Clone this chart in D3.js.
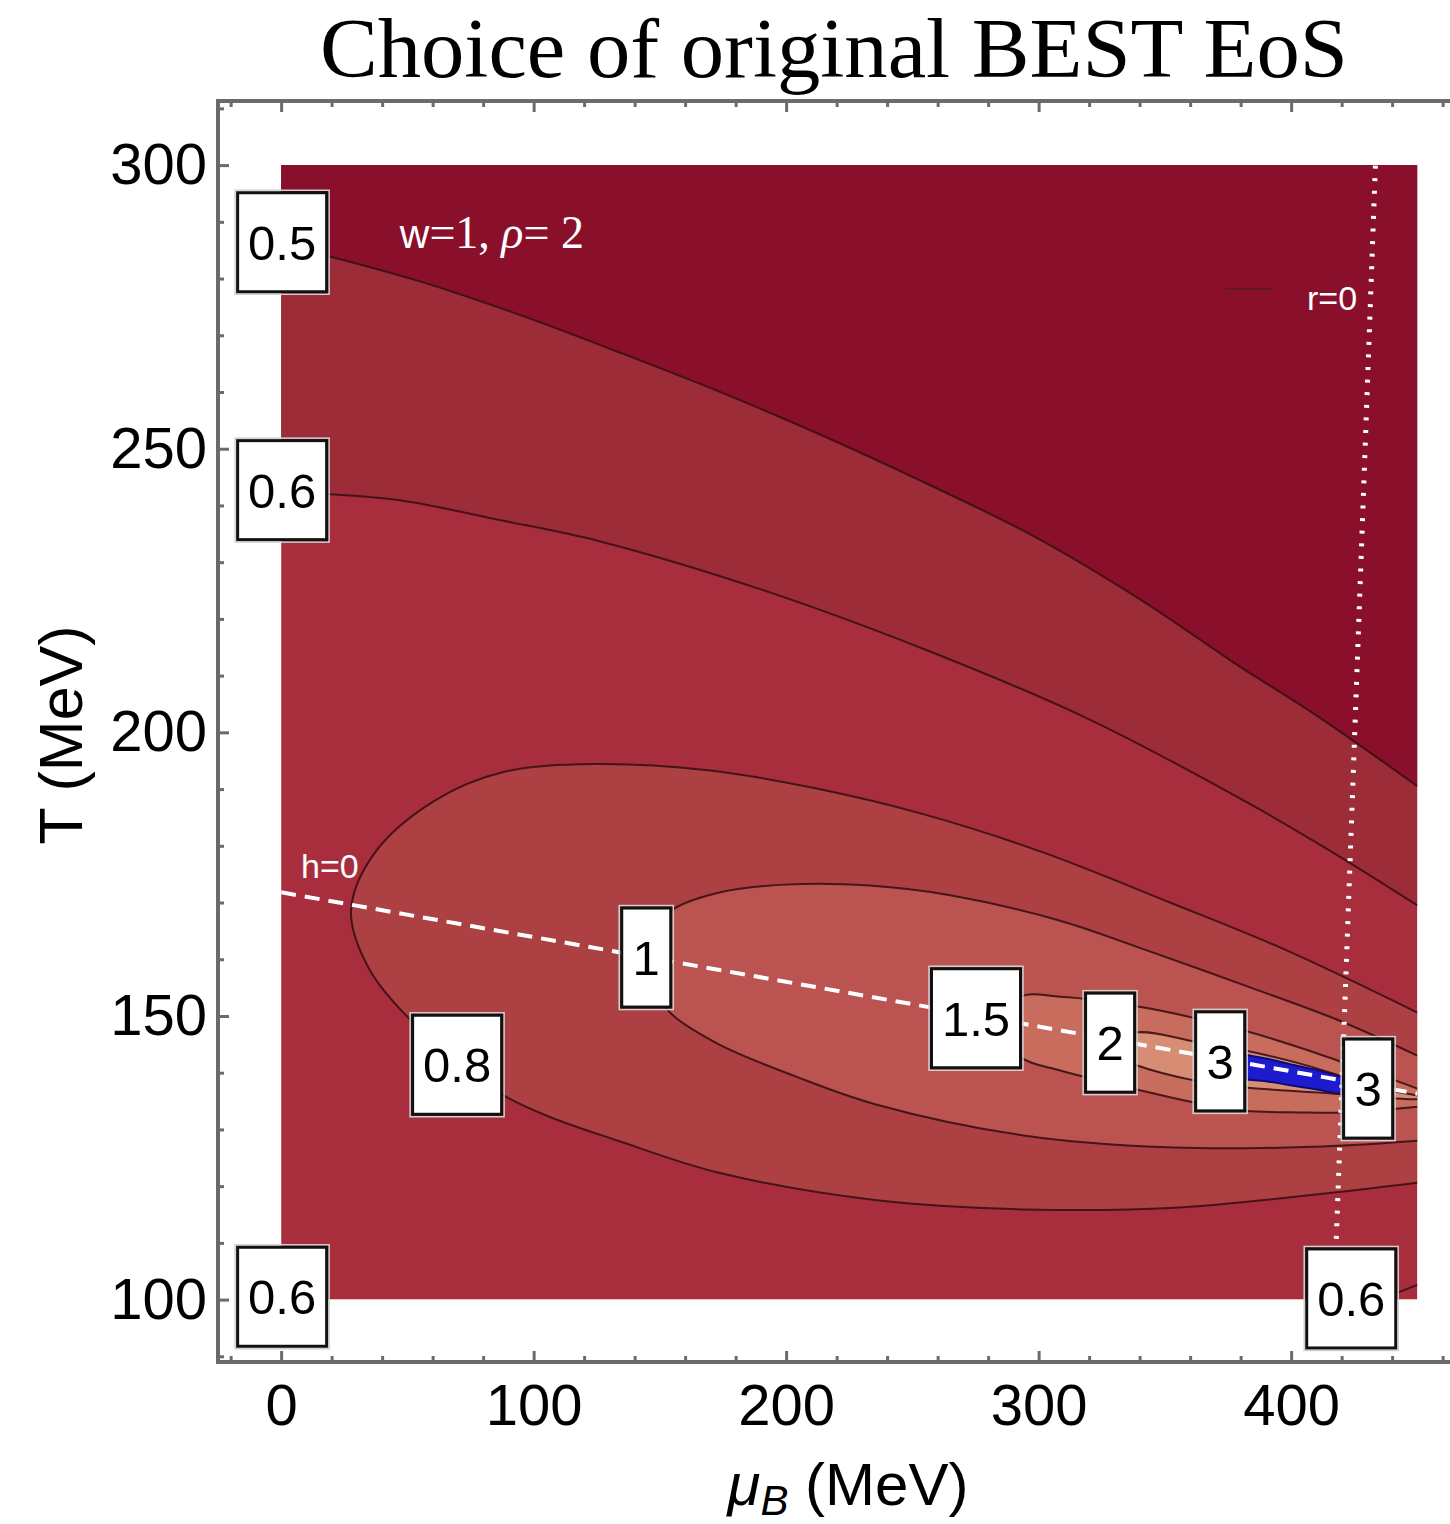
<!DOCTYPE html>
<html lang="en">
<head>
<meta charset="utf-8">
<title>Choice of original BEST EoS</title>
<script src="https://cdn.jsdelivr.net/npm/d3@7"></script>
<style>
  body { margin: 0; background: #fff; }
</style>
</head>
<body>
<div id="chart"></div>
<script>
// axis ticks
const xTicks = [0, 100, 200, 300, 400];
const xMinor = [-20, 20, 40, 60, 80, 120, 140, 160, 180, 220, 240, 260, 280, 320, 340, 360, 380, 420, 440, 460];
const yTicks = [100, 150, 200, 250, 300];
const yMinor = [90, 110, 120, 130, 140, 160, 170, 180, 190, 210, 220, 230, 240, 260, 270, 280, 290, 310];

// contour lines, [muB, T]
const contour05 = [[0,286],[20,283.8],[55,279.5],[95,273.5],[135,266.8],[175,259.8],[215,252.2],[255,244],[298,234.6],[340,223.5],[380,211.5],[410,203],[450,190.5]];
const contour06 = [[0,242.3],[18,242],[47,240.9],[87,237.4],[126,233.7],[190,225.2],[255,214.6],[320,202.3],[384,187.3],[414,179.5],[450,169.5]];
const contour08 = [[450,150.6],[398,161.6],[352,170],[302,178.8],[255,185.5],[212,190.1],[169,193.3],[124,194.4],[88,193],[61,188],[37,178.7],[27.7,168.6],[34.5,158.6],[51.5,149.2],[71,142.2],[87,136.3],[107,132.1],[133.5,128],[173,122.4],[236,117.5],[295,115.9],[354,116.2],[413.5,118.7],[450,120.6]];
const contour1 = [[450,143],[419,149.2],[384,155],[342.6,161.6],[308.5,166.8],[265,171.3],[233,173],[201.6,173.2],[174,171.8],[154.5,168.6],[146,164.2],[145.3,159.4],[148,154.5],[154.5,150.4],[173,145.1],[204,139.3],[235.6,134.4],[294.7,128.9],[353.7,126.8],[412.7,127],[450,128]];
const contour15 = [[450,137.2],[439,139],[420.6,141.8],[403.6,144.4],[381.8,147.4],[362,149.6],[344,151.3],[324.4,152.7],[308.5,153.4],[293,153.4],[285,148],[293,142.7],[308.5,140.4],[324.4,138.6],[344,136.5],[362,134.7],[381.8,133.3],[403.6,133],[420.6,133],[450,134]];
const contour2 = [[450,136],[439,136.9],[420.6,139.3],[403.6,141.6],[381.8,143.9],[362,145.5],[338.2,147.1],[323.6,144.4],[338.2,141.4],[362,138.6],[381.8,137.4],[403.6,136.7],[420.6,136.2],[439,135.5],[450,135.3]];
const contour3 = [[371,141.2],[378,143.1],[390,142.5],[399.6,141.5],[411,140.4],[420.6,139.2],[426,137.8],[420.6,136.3],[411,137.0],[399.6,137.8],[390,138.5],[378,139.2]];
const cornerLine06 = [[435,100],[450,102.6]];

// h=0 and r=0 lines
const hLine = [[0,171.8],[450,136.3]];
const rLine = [[434.1,308.8],[417.8,109.5]];
const rLegend = [[374,278.2],[393,278.2]];

// contour labels
const labels = [
  {t: "0.5", mu: 0.4, T: 286.4},
  {t: "0.6", mu: 0.4, T: 242.7},
  {t: "0.6", mu: 0.4, T: 100.5},
  {t: "0.6", mu: 423.8, T: 100.2},
  {t: "0.8", mu: 69.7, T: 141.4},
  {t: "1", mu: 144.6, T: 160.3},
  {t: "1.5", mu: 275.2, T: 149.6},
  {t: "2", mu: 328.3, T: 145.3},
  {t: "3", mu: 371.9, T: 142.0},
  {t: "3", mu: 430.5, T: 137.2}
];

const W = 1450, H = 1524;
const svg = d3.select("#chart").append("svg")
  .attr("width", W).attr("height", H)
  .attr("font-family", "Liberation Sans, Arial, sans-serif");

const x = d3.scaleLinear().domain([-25, 465]).range([218, 1455.25]);
const y = d3.scaleLinear().domain([89, 311.3]).range([1362, 101]);

const line = d3.line()
  .x(d => x(d[0])).y(d => y(d[1]))
  .curve(d3.curveCatmullRom.alpha(0.5));
const closedLine = d3.line()
  .x(d => x(d[0])).y(d => y(d[1]))
  .curve(d3.curveCatmullRomClosed.alpha(0.5));
const topArea = d3.area()
  .x(d => x(d[0])).y0(y(300)).y1(d => y(d[1]))
  .curve(d3.curveCatmullRom.alpha(0.5));

svg.append("defs").append("clipPath").attr("id", "plotclip")
  .append("rect")
  .attr("x", x(0)).attr("y", y(300))
  .attr("width", x(450) - x(0)).attr("height", y(100) - y(300));

let g = svg.append("g").attr("clip-path", "url(#plotclip)");

// filled bands
g.append("rect")
  .attr("x", x(0)).attr("y", y(300))
  .attr("width", x(450) - x(0)).attr("height", y(100) - y(300))
  .attr("fill", "#a82e3e");
g.append("path").attr("d", topArea(contour06)).attr("fill", "#9b2c38");
g.append("path").attr("d", topArea(contour05)).attr("fill", "#8a0f2b");
g.append("path").attr("d", line(contour08) + "Z").attr("fill", "#ac4043");
g.append("path").attr("d", line(contour1) + "Z").attr("fill", "#bb5450");
g.append("path").attr("d", line(contour15) + "Z").attr("fill", "#c86c5e");
g.append("path").attr("d", line(contour2) + "Z").attr("fill", "#d78d74");
g.append("path").attr("d", closedLine(contour3))
  .attr("fill", "#1d1ad0").attr("stroke", "#0c0a78").attr("stroke-width", 2);

// contour lines
[contour05, contour06, contour08, contour1, contour15, contour2, cornerLine06].forEach(function(c) {
  g.append("path").attr("d", line(c))
    .attr("fill", "none").attr("stroke", "#3a1014")
    .attr("stroke-opacity", 0.9).attr("stroke-width", 2);
});

// h=0 dashed line
g.append("path").attr("d", line(hLine))
  .attr("fill", "none").attr("stroke", "#fff")
  .attr("stroke-width", 4).attr("stroke-dasharray", "15,9");

// r=0 dotted line
svg.append("path").attr("d", line(rLine))
  .attr("fill", "none").attr("stroke", "#fff")
  .attr("stroke-width", 5).attr("stroke-dasharray", "3,9.6");

// legend stub + line labels
g.append("path").attr("d", line(rLegend))
  .attr("stroke", "#5a1a1e").attr("stroke-width", 1.5);
svg.append("text").attr("x", x(406.3)).attr("y", y(274.5))
  .attr("fill", "#fff").attr("font-size", 34).text("r=0");
svg.append("text").attr("x", x(7.9)).attr("y", y(174.3))
  .attr("fill", "#fff").attr("font-size", 34).text("h=0");

let wp = svg.append("text").attr("x", x(47)).attr("y", y(285.4))
  .attr("fill", "#fff").attr("font-size", 46)
  .attr("font-family", "Liberation Serif, serif");
wp.append("tspan").attr("font-family", "Liberation Sans, sans-serif").attr("font-size", 41).text("w");
wp.append("tspan").text("=1, ");
wp.append("tspan").attr("font-style", "italic").text("ρ");
wp.append("tspan").text("= 2");

// contour value boxes
let lab = svg.append("g").selectAll("g").data(labels).join("g")
  .attr("transform", d => "translate(" + x(d.mu) + "," + y(d.T) + ")");
lab.append("rect")
  .attr("x", d => -(d.t.length === 1 ? 27 : 47)).attr("y", -52)
  .attr("width", d => d.t.length === 1 ? 54 : 94).attr("height", 104)
  .attr("fill", "none").attr("stroke", "#d0d0d0").attr("stroke-width", 1.5);
lab.append("rect")
  .attr("x", d => -(d.t.length === 1 ? 24.5 : 44.5)).attr("y", -49.5)
  .attr("width", d => d.t.length === 1 ? 49 : 89).attr("height", 99)
  .attr("fill", "#fff").attr("stroke", "#111").attr("stroke-width", 3);
lab.append("text")
  .attr("text-anchor", "middle").attr("dy", "0.36em")
  .attr("font-size", 49).attr("fill", "#000")
  .text(d => d.t);

// frame
svg.append("path")
  .attr("d", "M" + (W + 5) + "," + y(311.3) + "H" + x(-25) + "V" + y(89) + "H" + (W + 5))
  .attr("fill", "none").attr("stroke", "#6b6b6b").attr("stroke-width", 4);

function styleAxis(sel) {
  sel.select(".domain").remove();
  sel.selectAll(".tick line").attr("stroke", "#6b6b6b").attr("stroke-width", 3);
  sel.selectAll(".tick text").attr("font-size", 58).attr("fill", "#000")
    .attr("font-family", "Liberation Sans, Arial, sans-serif");
}

svg.append("g").attr("transform", "translate(" + x(-25) + ",0)")
  .call(d3.axisLeft(y).tickValues(yTicks).tickSize(-11).tickPadding(11))
  .call(styleAxis);
svg.append("g").attr("transform", "translate(" + x(-25) + ",0)")
  .call(d3.axisLeft(y).tickValues(yMinor).tickSize(-6).tickFormat(""))
  .call(styleAxis);
svg.append("g").attr("transform", "translate(0," + y(89) + ")")
  .call(d3.axisBottom(x).tickValues(xTicks).tickSize(-11).tickPadding(22))
  .call(styleAxis);
svg.append("g").attr("transform", "translate(0," + y(89) + ")")
  .call(d3.axisBottom(x).tickValues(xMinor).tickSize(-6).tickFormat(""))
  .call(styleAxis);
svg.append("g").attr("transform", "translate(0," + y(311.3) + ")")
  .call(d3.axisTop(x).tickValues(xTicks).tickSize(-11).tickFormat(""))
  .call(styleAxis);
svg.append("g").attr("transform", "translate(0," + y(311.3) + ")")
  .call(d3.axisTop(x).tickValues(xMinor).tickSize(-6).tickFormat(""))
  .call(styleAxis);

// axis titles
let xt = svg.append("text").attr("x", 848).attr("y", 1505)
  .attr("text-anchor", "middle").attr("font-size", 60).attr("fill", "#000");
xt.append("tspan").attr("font-style", "italic").text("μ");
xt.append("tspan").attr("font-style", "italic").attr("font-size", 42).attr("dy", 10).text("B");
xt.append("tspan").attr("dy", -10).text(" (MeV)");

svg.append("text")
  .attr("transform", "translate(82,735) rotate(-90)")
  .attr("text-anchor", "middle").attr("font-size", 61).attr("fill", "#000")
  .text("T (MeV)");

// title
svg.append("text").attr("x", 320).attr("y", 77)
  .attr("font-family", "Liberation Serif, serif").attr("font-size", 84)
  .attr("textLength", 1028).attr("lengthAdjust", "spacingAndGlyphs")
  .attr("fill", "#000").text("Choice of original BEST EoS");
</script>
</body>
</html>
